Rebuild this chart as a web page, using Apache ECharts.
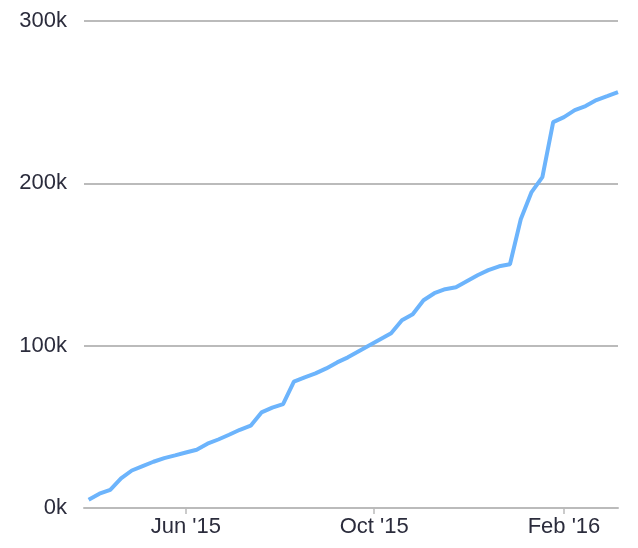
<!DOCTYPE html>
<html>
<head>
<meta charset="utf-8">
<script src="https://cdn.jsdelivr.net/npm/echarts@6/dist/echarts.min.js"></script>
<style>
  html, body { margin: 0; padding: 0; background: #fff; }
  #chart { width: 638px; height: 548px; }
</style>
</head>
<body>
<div id="chart"></div>
<script>
// Weekly dates
var dates = [
  '2015-03-30','2015-04-06','2015-04-13','2015-04-20','2015-04-27',
  '2015-05-04','2015-05-11','2015-05-18','2015-05-25','2015-06-01',
  '2015-06-08','2015-06-15','2015-06-22','2015-06-29','2015-07-06',
  '2015-07-13','2015-07-20','2015-07-27','2015-08-03','2015-08-10',
  '2015-08-17','2015-08-24','2015-08-31','2015-09-07','2015-09-14',
  '2015-09-21','2015-09-28','2015-10-05','2015-10-12','2015-10-19',
  '2015-10-26','2015-11-02','2015-11-09','2015-11-16','2015-11-23',
  '2015-11-30','2015-12-07','2015-12-14','2015-12-21','2015-12-28',
  '2016-01-04','2016-01-11','2016-01-18','2016-01-25','2016-02-01',
  '2016-02-08','2016-02-15','2016-02-22','2016-02-29','2016-03-07'
];
// Cumulative values
var values = [
  5100, 8800, 11200, 18200, 23100, 25800, 28500, 30700, 32400, 34200,
  35900, 39600, 42200, 45100, 48200, 50700, 58900, 61800, 64000, 77800,
  80500, 82900, 86000, 89700, 92800, 96500, 100200, 103900, 107600, 115600,
  119300, 128000, 132300, 134800, 136000, 139700, 143400, 146500, 148900, 150200,
  177900, 194600, 203800, 237700, 240800, 245100, 247600, 251300, 253700, 256200
];
var xTickDates = ['2015-06-01', '2015-10-01', '2016-02-01'];
var yTicks = [0, 100000, 200000, 300000];
var monthNames = ['Jan','Feb','Mar','Apr','May','Jun','Jul','Aug','Sep','Oct','Nov','Dec'];

function toTs(s) {
  var p = s.split('-');
  return new Date(+p[0], +p[1] - 1, +p[2]).getTime();
}
var seriesData = dates.map(function (d, i) { return [toTs(d), values[i]]; });
var xTicks = xTickDates.map(toTs);

var chart = echarts.init(document.getElementById('chart'));
var labelFont = {
  color: '#2b2c3c',
  fontFamily: '"Liberation Sans", sans-serif',
  fontSize: 22
};
chart.setOption({
  animation: false,
  grid: { left: 84, right: 20, top: 21, bottom: 40, containLabel: false },
  xAxis: {
    type: 'value',
    min: toTs('2015-03-27'),
    max: toTs('2016-03-07'),
    axisLine: { show: true, lineStyle: { color: '#bbbbbb', width: 2 } },
    axisTick: { show: true, customValues: xTicks, length: 6, lineStyle: { color: '#bbbbbb', width: 1.5 } },
    splitLine: { show: false },
    axisLabel: Object.assign({
      customValues: xTicks,
      margin: 8,
      formatter: function (v) {
        var d = new Date(v);
        return monthNames[d.getMonth()] + " '" + String(d.getFullYear()).slice(2);
      }
    }, labelFont)
  },
  yAxis: {
    type: 'value',
    min: yTicks[0],
    max: yTicks[yTicks.length - 1],
    interval: 100000,
    axisLine: { show: false },
    axisTick: { show: false },
    splitLine: { show: true, lineStyle: { color: '#bbbbbb', width: 2 } },
    axisLabel: Object.assign({
      margin: 17,
      padding: [5, 0, 0, 0],
      formatter: function (v) { return (v / 1000) + 'k'; }
    }, labelFont)
  },
  series: [{
    type: 'line',
    data: seriesData,
    showSymbol: false,
    symbol: 'none',
    lineStyle: { color: '#6cb4fc', width: 4 },
    emphasis: { disabled: true }
  }]
});
</script>
</body>
</html>
